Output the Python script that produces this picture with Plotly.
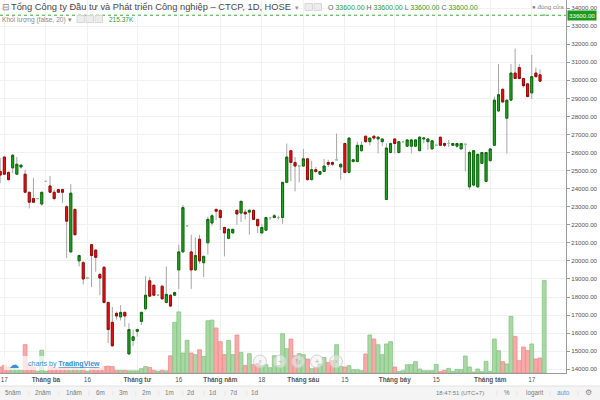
import pandas as pd
import plotly.graph_objects as go

# ---------------- data ----------------
HOLIDAYS = ["2020-04-02", "2020-04-30", "2020-05-01"]
dates = [d.strftime("%Y-%m-%d") for d in pd.bdate_range("2020-02-14", "2020-08-20")
         if d.strftime("%Y-%m-%d") not in HOLIDAYS]

open_ = [24950, 25750, 24900, 25150, 24800, 25200, 24800, 23800, 23450, 23450,
         23150, 24400, 24150, 23800, 23950, 23950, 23000, 20500, 22850, 20000,
         19900, 19050, 20900, 20600, 19250, 19650, 17700, 16600, 17100, 16900,
         17150, 14850, 15600, 16100, 16650, 17350, 18900, 18650, 18100, 18600,
         17700, 18100, 18100, 19500, 20500, 21950, 20500, 19500, 21200, 19900,
         21000, 22100, 22850, 22800, 21850, 21250, 21550, 22800, 22650, 22700,
         22700, 22800, 22300, 21550, 21700, 22400, 22400, 22400, 22400, 24350,
         26100, 25450, 25250, 25250, 25650, 24500, 25050, 24800, 24950, 25450,
         25450, 25600, 25200, 26500, 24900, 25500, 25500, 26100, 26900, 26600,
         26900, 26750, 26600, 23400, 26000, 26750, 26000, 26600, 26350, 26350,
         26350, 26100, 26750, 26600, 26200, 26400, 26850, 26500, 26500, 26400,
         26350, 26200, 26450, 24100, 24200, 24100, 25400, 24400, 25550, 26400,
         28300, 29500, 27900, 28900, 30400, 30700, 30100, 29800, 29300, 30400,
         30300, 33600]
high = [25700, 25800, 24950, 25900, 25750, 25350, 25050, 23800, 24600, 23450,
        23800, 24400, 24700, 23950, 24000, 24000, 23100, 24250, 22900, 20350,
        20000, 19050, 20900, 20650, 19350, 19700, 17750, 17450, 17200, 17550,
        17200, 16550, 16200, 16250, 17200, 19150, 19100, 18700, 18100, 18650,
        19700, 18150, 18300, 20900, 23100, 21950, 21450, 21300, 21450, 20300,
        22450, 22600, 22900, 22850, 21900, 21800, 21750, 22850, 23300, 22850,
        22850, 22850, 22300, 22050, 22450, 22450, 22600, 22500, 24350, 26500,
        26150, 25750, 25300, 26200, 25700, 25550, 25200, 24950, 25650, 25600,
        25500, 27050, 25400, 26550, 26850, 25650, 26600, 26600, 26950, 26850,
        26950, 26900, 26750, 26500, 26550, 26750, 26600, 26650, 26700, 26750,
        26700, 26900, 26850, 26750, 26650, 26400, 26850, 26550, 26700, 26500,
        26500, 26500, 26500, 26100, 26100, 25950, 26000, 26000, 26250, 29100,
        30900, 29550, 28900, 30900, 31750, 30900, 30100, 29850, 31400, 30700,
        30600, 33600]
low = [24300, 24750, 24450, 24850, 24750, 25100, 23750, 22900, 23200, 23450,
       23050, 24400, 23750, 23350, 23750, 23200, 20150, 20450, 21400, 19700,
       18700, 19050, 18550, 19400, 18100, 17650, 15450, 15250, 16750, 16700,
       16350, 14800, 15300, 15800, 16450, 17300, 18000, 18050, 18100, 17850,
       17650, 17450, 18050, 18450, 20450, 21950, 18450, 19450, 19850, 19100,
       20350, 21950, 22250, 21700, 20250, 21200, 21500, 22000, 22150, 22300,
       21450, 22250, 21550, 21500, 21700, 22250, 22400, 22300, 22050, 24300,
       24400, 23850, 24350, 25200, 24450, 24450, 24850, 24750, 24950, 25200,
       25250, 25600, 24500, 24850, 24850, 25450, 25450, 26050, 26550, 26400,
       26700, 25950, 26350, 23400, 25950, 25950, 25950, 26550, 26350, 25950,
       26350, 26100, 26500, 26150, 26200, 26400, 26400, 26300, 26300, 26400,
       26250, 26200, 24950, 23950, 24150, 24050, 25400, 24350, 25500, 26400,
       28250, 28750, 25950, 28850, 30100, 30050, 29600, 29050, 28950, 30150,
       29900, 33600]
close = [24750, 24800, 24500, 25850, 25350, 25300, 23800, 23250, 23250, 23450,
         23800, 24400, 23800, 23450, 23800, 23800, 22200, 23750, 21450, 20300,
         19000, 19050, 20300, 20200, 19050, 17700, 16200, 15300, 16950, 17150,
         16950, 16200, 15800, 16200, 17150, 18100, 18050, 18100, 18100, 17900,
         18150, 17500, 18250, 20500, 22950, 21950, 19500, 20300, 20000, 20250,
         22300, 22500, 22750, 22400, 21550, 21750, 21750, 22600, 23300, 22600,
         22800, 22300, 21950, 21850, 22400, 22400, 22500, 22400, 24350, 25750,
         25450, 25250, 25250, 25650, 24500, 25050, 24950, 24950, 25250, 25350,
         25350, 25600, 25350, 24900, 26800, 25600, 26400, 26400, 26600, 26800,
         26800, 26850, 26750, 26250, 26500, 26500, 26600, 26600, 26700, 26700,
         26700, 26850, 26800, 26750, 26650, 26400, 26400, 26400, 26500, 26500,
         26500, 26500, 26450, 26000, 26100, 25900, 26000, 26000, 26200, 28900,
         29200, 28800, 28900, 30400, 30100, 30100, 29700, 29100, 30200, 30200,
         29950, 33600]
volume_k = [14, 18, 14, 12, 10, 8, 66, 20, 14, 4,
            53, 4, 16, 14, 10, 12, 20, 25, 18, 10,
            16, 4, 14, 12, 10, 15, 16, 15, 6, 6,
            6, 5, 5, 5, 10, 15, 13, 6, 4, 6,
            5, 40, 118, 142, 46.5, 76, 46.5, 42.6, 54, 38.6,
            121.6, 123, 104.7, 72.8, 42.6, 75.8, 42.6, 88.4, 47.9, 17.7,
            44.9, 19.3, 21.6, 17, 19.3, 12.3, 40.2, 17, 91.4, 56.5,
            79, 40, 45, 42.6, 32.6, 10, 13, 21, 36.3, 24.7,
            28.6, 65.8, 15.4, 14, 17, 7.7, 7.7, 5.3, 44.2, 88.4,
            79, 65.8, 42.6, 67.5, 72.8, 14, 3.7, 5.3, 19.3, 19.3,
            26.3, 9.3, 5.3, 5.3, 5.3, 20, 3, 6, 10.7, 3.7,
            8.4, 7.7, 39.5, 14, 2.3, 9.3, 3, 27, 3.7, 79,
            51.9, 26.3, 21, 131.7, 85.1, 28.6, 60.5, 51.9, 67.5, 32.6,
            34.9, 215.37]

tick_dates = ["2020-02-17", "2020-03-02", "2020-03-16", "2020-04-01", "2020-04-16",
              "2020-05-04", "2020-05-18", "2020-06-01", "2020-06-15", "2020-07-01",
              "2020-07-15", "2020-08-03", "2020-08-17"]
tick_text = ["17", "Tháng ba", "16", "Tháng tư", "16", "Tháng năm", "18", "Tháng sáu",
             "15", "Tháng bảy", "15", "Tháng tám", "17"]

TITLE = "Tổng Công ty Đầu tư và Phát triển Công nghiệp – CTCP, 1D, HOSE"
VOL_TITLE = "Khối lượng (false, 20)"
toolbar_left = ["5năm", "2năm", "1năm", "6m", "3m", "2m", "1m", "2d", "1d", "7d", "1d"]

# ---------------- layout constants ----------------
W, H = 600, 400
L_M, R_M, T_M, B_M = 0, 34, 0, 27
PW, PH = W - L_M - R_M, H - T_M - B_M
FONT = "Liberation Sans, Arial, sans-serif"
UP_FILL, UP_LINE = "#20a820", "#0b6a0b"
DN_FILL, DN_LINE = "#ee1111", "#a00808"
WICK = "#a6a6a6"
FLAT = "#8fcf8f"
VUP_FILL, VUP_LINE = "#a8d8a4", "#86c584"
VDN_FILL, VDN_LINE = "#f8a9a9", "#f08b8b"
GREEN_TXT = "#2f9e2f"
Y_RANGE = [13795, 34443]
VOL_TOP = 867.5


def px(x):
    return (x - L_M) / PW


def py(y):
    return (PH - (y - T_M)) / PH


# ---------------- traces ----------------
flat = [o == c for o, c in zip(open_, close)]
body_o = [None if f else o for o, f in zip(open_, flat)]
body_c = [None if f else c for c, f in zip(close, flat)]
body_h = [None if f else max(o, c) for o, c, f in zip(open_, close, flat)]
body_l = [None if f else min(o, c) for o, c, f in zip(open_, close, flat)]
flat_v = [o if f else None for o, f in zip(open_, flat)]
vol_fill = [VUP_FILL if c >= o else VDN_FILL for o, c in zip(open_, close)]
vol_line = [VUP_LINE if c >= o else VDN_LINE for o, c in zip(open_, close)]

fig = go.Figure()
fig.add_trace(go.Bar(x=dates, y=volume_k, yaxis="y",
                     marker=dict(color=vol_fill, line=dict(color=vol_line, width=0.8)),
                     hoverinfo="skip", showlegend=False))
gray = dict(line=dict(color=WICK, width=1), fillcolor=WICK)
fig.add_trace(go.Candlestick(x=dates, open=open_, high=high, low=low, close=close,
                             yaxis="y2", increasing=gray, decreasing=gray,
                             whiskerwidth=0, hoverinfo="skip", showlegend=False))
fig.add_trace(go.Candlestick(x=dates, open=body_o, high=body_h, low=body_l, close=body_c,
                             yaxis="y2",
                             increasing=dict(line=dict(color=UP_LINE, width=1), fillcolor=UP_FILL),
                             decreasing=dict(line=dict(color=DN_LINE, width=1), fillcolor=DN_FILL),
                             whiskerwidth=0, hoverinfo="skip", showlegend=False))
flat_style = dict(line=dict(color=FLAT, width=1), fillcolor=FLAT)
fig.add_trace(go.Candlestick(x=dates, open=flat_v, high=flat_v, low=flat_v, close=flat_v,
                             yaxis="y2", increasing=flat_style, decreasing=flat_style,
                             whiskerwidth=0, hoverinfo="skip", showlegend=False))

# ---------------- annotations ----------------
ann = []


def text(x, y, s, size=6.4, color="#555", anchor="left", **kw):
    ann.append(dict(xref="paper", yref="paper", x=px(x), y=py(y), text=s, showarrow=False,
                    xanchor=anchor, yanchor="middle",
                    font=dict(size=size, color=color, family=FONT), **kw))


text(0, 7, "⊟", 9, "#888")
text(8.5, 7, TITLE, 9.3, "#4a4a4a")
text(293, 7, "▾", 7, "#999")
g = lambda v: '<span style="color:%s">%.2f</span>' % (GREEN_TXT, v)
text(326, 7, "O %s H %s L %s C %s" % (g(open_[-1]), g(high[-1]), g(low[-1]), g(close[-1])),
     7, "#666")
text(530, 6.5, "● đóng cửa", 6.2, "#888")
text(0, 19, VOL_TITLE + " ▾", 6.6, "#888")
text(107, 19, "%.2fK" % volume_k[-1], 6.5, GREEN_TXT)

# price label on axis
ann.append(dict(xref="paper", yref="y2", x=1, y=close[-1], text="%.2f" % close[-1],
                showarrow=False, xanchor="left", yanchor="middle", xshift=0.5,
                bgcolor="#1c9a1c", borderpad=1,
                font=dict(size=6.2, color="white", family=FONT)))

# TradingView logo
text(7, 364, '<span style="color:#3b8fd8">☁</span>', 10, "#3b8fd8")
text(26, 364, 'charts by <b><u>TradingView</u></b>', 7, "#3b8fd8")

# nav buttons
nav = [(260, "‹"), (280, "−"), (298, "↻"), (317, "+"), (336, "›")]
for cx, gl in nav:
    text(cx, 361.5, gl, 7, "#aaa", anchor="center")

# toolbar
tb_x = [13, 43, 73.5, 100, 123, 146, 169, 191, 213, 234, 255]
for xx, s in zip(tb_x, toolbar_left):
    text(xx, 392.7, s, 6.3, "#7a7a7a", anchor="center")
for xx in [29, 59, 89, 113, 136, 159, 183, 204, 225, 247]:
    text(xx, 392.7, "|", 6, "#dcdcdc", anchor="center")
text(459.7, 392.7, "18:47:51 (UTC+7)", 6.0, "#7a7a7a", anchor="center")
text(507, 392.7, "%", 6.3, "#7a7a7a", anchor="center")
text(534, 392.7, "logarit", 6.3, "#7a7a7a", anchor="center")
text(563, 392.7, "auto", 6.3, "#3aa8e0", anchor="center")
text(588, 392.7, "⚙", 8, "#888", anchor="center")
for xx in [497, 517, 550, 578]:
    text(xx, 392.7, "|", 6, "#dcdcdc", anchor="center")

# ---------------- shapes ----------------
shapes = [
    dict(type="line", xref="paper", yref="y2", x0=0, x1=1, y0=close[-1], y1=close[-1],
         line=dict(color="#3aa83a", width=1, dash="dot"), layer="above"),
    dict(type="rect", xref="paper", yref="paper", x0=px(0), x1=px(600), y0=py(400), y1=py(386),
         fillcolor="#f4f4f4", line=dict(width=0), layer="below"),
    dict(type="line", xref="paper", yref="paper", x0=px(0), x1=px(600), y0=py(386), y1=py(386),
         line=dict(color="#e2e2e2", width=1)),
    dict(type="rect", xref="paper", yref="paper", x0=px(4), x1=px(104), y0=py(370), y1=py(356),
         fillcolor="rgba(255,255,255,0.72)", line=dict(width=0), layer="above"),
]
for cx, _ in nav:
    shapes.append(dict(type="circle", xref="paper", yref="paper",
                       x0=px(cx - 6.5), x1=px(cx + 6.5), y0=py(368), y1=py(355),
                       fillcolor="rgba(238,238,238,0.55)",
                       line=dict(color="rgba(200,200,200,0.8)", width=1), layer="above"))
for x0 in [305, 314, 77, 86, 95]:
    yc = 7 if x0 > 200 else 19
    shapes.append(dict(type="rect", xref="paper", yref="paper",
                       x0=px(x0), x1=px(x0 + 7.5), y0=py(yc + 3.5), y1=py(yc - 3.5),
                       fillcolor="#ececec", line=dict(color="#d8d8d8", width=1)))

fig.update_layout(
    width=W, height=H,
    margin=dict(l=L_M, r=R_M, t=T_M, b=B_M, pad=0),
    paper_bgcolor="white", plot_bgcolor="white",
    showlegend=False, bargap=0.08, boxgap=0.3,
    annotations=ann, shapes=shapes,
    font=dict(family=FONT),
    xaxis=dict(type="category", range=[-0.05, 136.25], tickvals=tick_dates,
               ticktext=["<b>%s</b>" % t if t.startswith("Tháng") else t for t in tick_text],
               tickfont=dict(size=6.4, color="#555"), ticks="", showgrid=True,
               gridcolor="#f1f1f1", gridwidth=1, showline=True, linecolor="#9a9a9a",
               linewidth=1, rangeslider=dict(visible=False), fixedrange=True, zeroline=False),
    yaxis=dict(range=[0, VOL_TOP], visible=False, showgrid=False, fixedrange=True),
    yaxis2=dict(overlaying="y", side="right", range=Y_RANGE, dtick=1000, tick0=14000,
                tickformat=".2f", tickfont=dict(size=6.2, color="#555"),
                ticks="outside", ticklen=3, tickcolor="#9a9a9a", showline=True,
                linecolor="#9a9a9a", linewidth=1, showgrid=True, gridcolor="#f1f1f1",
                zeroline=False, fixedrange=True),
)

fig.write_html("out.html", config={"displayModeBar": False},
               post_script="document.body.style.margin='0px';document.body.style.overflow='hidden';")
